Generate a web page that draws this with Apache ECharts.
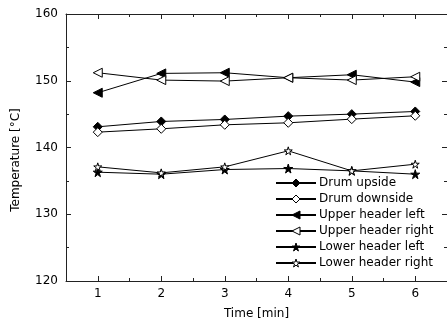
<!DOCTYPE html>
<html>
<head>
<meta charset="utf-8">
<script src="https://cdn.jsdelivr.net/npm/echarts@6/dist/echarts.min.js"></script>
<style>html,body{margin:0;padding:0;background:#fff;}#c{width:447px;height:328px;}</style>
</head>
<body>
<div id="c"></div>
<script>
var times = [1, 2, 3, 4, 5, 6];
var drumUpside = [143.1, 143.9, 144.2, 144.7, 145.0, 145.4];
var drumDownside = [142.3, 142.8, 143.4, 143.7, 144.25, 144.75];
var upperHeaderLeft = [148.2, 151.1, 151.2, 150.45, 150.9, 149.8];
var upperHeaderRight = [151.2, 150.1, 149.95, 150.45, 150.1, 150.6];
var lowerHeaderLeft = [136.3, 136.0, 136.7, 136.85, 136.5, 136.0];
var lowerHeaderRight = [137.1, 136.2, 137.1, 139.5, 136.5, 137.5];
var seriesNames = ['Drum upside', 'Drum downside', 'Upper header left', 'Upper header right', 'Lower header left', 'Lower header right'];
var yTicks = [120, 130, 140, 150, 160];

var FONT = 'DejaVu Sans';
var triLeft = 'path://M0,5 L10,0 L10,10 Z';
var star = 'path://M50,0 L61,35 L98,35 L68,57 L79,91 L50,70 L21,91 L32,57 L2,35 L39,35 Z';
var filledFlags = [true, false, true, false, true, false];

function pairs(vals) { return times.map(function (t, i) { return [t, vals[i]]; }); }
function styleFor(filled) { return { color: filled ? '#000' : '#fff', borderColor: '#000', borderWidth: 1 }; }

function mk(name, vals, symbol, size, filled) {
  return {
    name: name, type: 'line', data: pairs(vals),
    symbol: symbol, symbolSize: size, showSymbol: true,
    lineStyle: { color: '#000', width: 1 },
    itemStyle: styleFor(filled),
    emphasis: { disabled: true }, animation: false, z: 3
  };
}

var majorX = times, minorX = [1.5, 2.5, 3.5, 4.5, 5.5];
function xAx(pos, custom, len, labels, line) {
  return {
    type: 'value', position: pos, min: 0.5, max: 6.5,
    axisLine: { show: line, onZero: false, lineStyle: { color: '#222', width: 1 } },
    axisTick: { show: true, inside: true, length: len, customValues: custom, lineStyle: { color: '#222' } },
    axisLabel: labels ? { show: true, customValues: custom, color: '#000', fontFamily: FONT, fontSize: 12, margin: 7 } : { show: false },
    splitLine: { show: false },
    name: (labels ? 'Time [min]' : ''), nameLocation: 'middle', nameGap: 27,
    nameTextStyle: { color: '#000', fontFamily: FONT, fontSize: 12 }
  };
}
function yAx(pos, labels) {
  return {
    type: 'value', position: pos, min: 120, max: 160, interval: 10,
    axisLine: { show: labels, onZero: false, lineStyle: { color: '#222', width: 1 } },
    axisTick: { show: true, inside: true, length: 5, lineStyle: { color: '#222' } },
    minorTick: { show: true, splitNumber: 2, length: 3, lineStyle: { color: '#222' } },
    axisLabel: labels ? { show: true, color: '#000', fontFamily: FONT, fontSize: 12, margin: 8,
      customValues: yTicks } : { show: false },
    splitLine: { show: false }
  };
}

var chart = echarts.init(document.getElementById('c'), null, { renderer: 'canvas' });
chart.setOption({
  animation: false,
  backgroundColor: '#fff',
  grid: { left: 66, right: -2, top: 14, bottom: 47 },
  xAxis: [
    xAx('bottom', majorX, 5, true, true),
    xAx('bottom', minorX, 3, false, false),
    xAx('top', majorX, 5, false, true),
    xAx('top', minorX, 3, false, false)
  ],
  yAxis: [yAx('left', true), yAx('right', false)],
  graphic: [{
    type: 'text', x: 16, y: 160, rotation: Math.PI / 2,
    style: { text: 'Temperature [°C]', fill: '#000', font: '12px "DejaVu Sans"', align: 'center', verticalAlign: 'middle' }
  }],
  legend: {
    orient: 'vertical', left: 275, top: 177, padding: 0, itemWidth: 40, itemHeight: 10, itemGap: 4,
    textStyle: { color: '#000', fontFamily: FONT, fontSize: 12, padding: [0, 0, 0, -2] },
    data: seriesNames.map(function (n, i) { return { name: n, itemStyle: styleFor(filledFlags[i]) }; }),
    selectedMode: false
  },
  series: [
    mk(seriesNames[0], drumUpside, 'diamond', 9, true),
    mk(seriesNames[1], drumDownside, 'diamond', 9, false),
    mk(seriesNames[2], upperHeaderLeft, triLeft, 9, true),
    mk(seriesNames[3], upperHeaderRight, triLeft, 9, false),
    mk(seriesNames[4], lowerHeaderLeft, star, 9, true),
    mk(seriesNames[5], lowerHeaderRight, star, 8, false)
  ]
});
</script>
</body>
</html>
